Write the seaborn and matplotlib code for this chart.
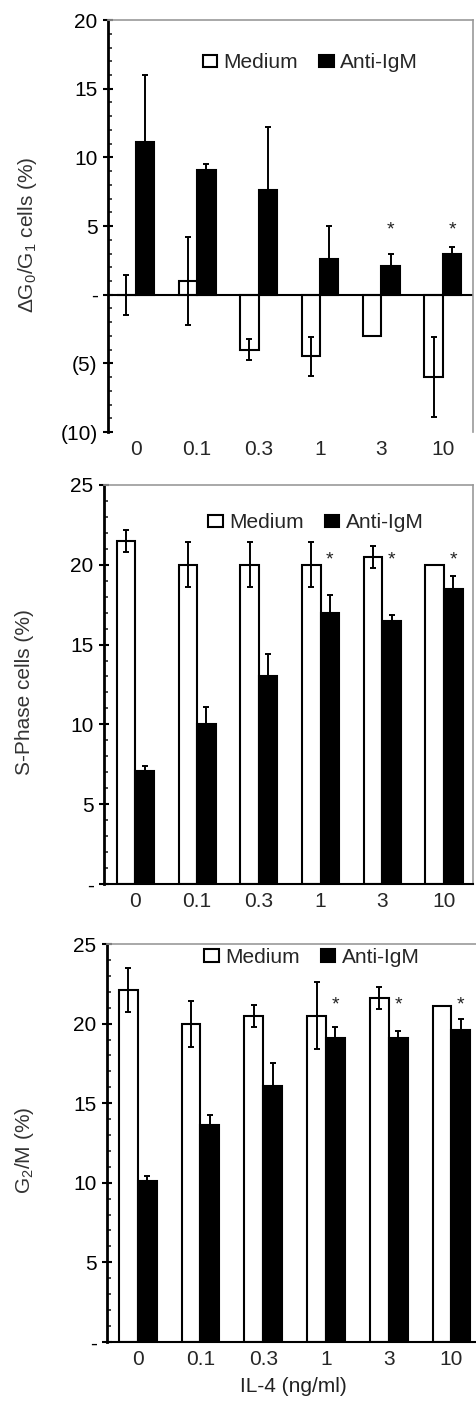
import numpy as np
import pandas as pd
import matplotlib
matplotlib.use('Agg')
import matplotlib.pyplot as plt
from matplotlib.ticker import AutoMinorLocator, FixedLocator, FixedFormatter
import seaborn as sns

sns.set_style('white')
plt.rcParams['font.family'] = ['Liberation Sans', 'DejaVu Sans']
plt.rcParams['mathtext.fontset'] = 'custom'
plt.rcParams['mathtext.rm'] = 'Liberation Sans'
plt.rcParams['mathtext.it'] = 'Liberation Sans'

doses = ['0', '0.1', '0.3', '1', '3', '10']
groups = ['Medium', 'Anti-IgM']

# panel A: change in G0/G1 cells
g1_medium = [0.0, 1.0, -4.0, -4.5, -3.0, -6.0]
g1_medium_err = [1.45, 3.2, 0.75, 1.4, 0.0, 2.9]
g1_anti = [11.1, 9.1, 7.6, 2.6, 2.1, 3.0]
g1_anti_err = [4.9, 0.45, 4.6, 2.4, 0.9, 0.45]
g1_stars = [False, False, False, False, True, True]

# panel B: S-phase cells
s_medium = [21.5, 20.0, 20.0, 20.0, 20.5, 20.0]
s_medium_err = [0.7, 1.4, 1.4, 1.4, 0.7, 0.0]
s_anti = [7.1, 10.0, 13.0, 17.0, 16.5, 18.5]
s_anti_err = [0.3, 1.1, 1.4, 1.1, 0.35, 0.8]
s_stars = [False, False, False, True, True, True]

# panel C: G2/M cells
g2_medium = [22.1, 20.0, 20.5, 20.5, 21.6, 21.1]
g2_medium_err = [1.4, 1.45, 0.7, 2.1, 0.7, 0.0]
g2_anti = [10.1, 13.6, 16.1, 19.1, 19.1, 19.6]
g2_anti_err = [0.3, 0.65, 1.4, 0.7, 0.45, 0.7]
g2_stars = [False, False, False, True, True, True]

palette = {'Medium': 'white', 'Anti-IgM': 'black'}
FS = 15


def make_df(medium, anti):
    return pd.DataFrame({
        'dose': doses * 2,
        'group': ['Medium'] * len(doses) + ['Anti-IgM'] * len(doses),
        'value': list(medium) + list(anti),
    })


def draw_panel(ax, medium, medium_err, anti, anti_err, stars, star_y,
               ylim, yticks, ylabels, ylabel, leg_xy, xlim):
    df = make_df(medium, anti)
    sns.barplot(data=df, x='dose', y='value', hue='group', order=doses,
                hue_order=groups, palette=palette, edgecolor='black',
                linewidth=1.5, width=0.6, errorbar=None, ax=ax)
    pos = np.arange(len(doses))
    ax.errorbar(pos - 0.15, medium, yerr=medium_err, fmt='none',
                ecolor='black', elinewidth=1.4, capsize=2.4, capthick=1.4)
    ax.errorbar(pos + 0.15, anti, yerr=anti_err, fmt='none',
                ecolor='black', elinewidth=1.4, capsize=2.4, capthick=1.4)
    for i, s in enumerate(stars):
        if s:
            ax.text(pos[i] + 0.15, star_y, '*', ha='center', va='center',
                    fontsize=14, color='#222222')

    ax.set_ylim(*ylim)
    ax.set_xlim(*xlim)
    ax.yaxis.set_major_locator(FixedLocator(yticks))
    ax.yaxis.set_major_formatter(FixedFormatter(ylabels))
    ax.yaxis.set_minor_locator(AutoMinorLocator(5))
    ax.tick_params(axis='y', which='major', direction='inout', length=7,
                   width=1.5, labelsize=FS, left=True, pad=4, colors='black')
    ax.tick_params(axis='y', which='minor', direction='in', length=3,
                   width=1.2, left=True)
    ax.tick_params(axis='x', length=0, labelsize=FS, pad=6)
    ax.set_xlabel('')
    ax.set_ylabel(ylabel, fontsize=FS, color='#333333')
    ax.yaxis.set_label_coords(-0.19, 0.48)

    ax.spines['left'].set_linewidth(2)
    ax.spines['left'].set_color('black')
    ax.spines['bottom'].set_linewidth(1.5)
    ax.spines['bottom'].set_color('black')
    for side in ['top', 'right']:
        ax.spines[side].set_color('#999999')
        ax.spines[side].set_linewidth(1.2)

    ax.legend(loc='center left', bbox_to_anchor=leg_xy, ncol=2,
              frameon=False, fontsize=FS, borderpad=0, borderaxespad=0,
              handlelength=0.7, handleheight=0.55, handletextpad=0.3,
              columnspacing=1.0)


fig = plt.figure(figsize=(4.77, 14.04), dpi=100)
ax1 = fig.add_axes([0.2264, 0.6923, 0.7652, 0.2934])
ax2 = fig.add_axes([0.2180, 0.3704, 0.7736, 0.2842])
ax3 = fig.add_axes([0.2243, 0.0443, 0.7800, 0.2833])

draw_panel(ax1, g1_medium, g1_medium_err, g1_anti, g1_anti_err, g1_stars, 4.7,
           (-10, 20), [-10, -5, 0, 5, 10, 15, 20],
           ['(10)', '(5)', '-', '5', '10', '15', '20'],
           r'$\Delta$G$_0$/G$_1$ cells (%)', (0.26, 0.896), (-0.45, 5.49))
ax1.axhline(0, color='black', lw=1.5, zorder=1)
ax1.spines['bottom'].set_visible(False)

draw_panel(ax2, s_medium, s_medium_err, s_anti, s_anti_err, s_stars, 20.3,
           (0, 25), [0, 5, 10, 15, 20, 25],
           ['-', '5', '10', '15', '20', '25'],
           'S-Phase cells (%)', (0.283, 0.905), (-0.51, 5.47))

draw_panel(ax3, g2_medium, g2_medium_err, g2_anti, g2_anti_err, g2_stars, 21.2,
           (0, 25), [0, 5, 10, 15, 20, 25],
           ['-', '5', '10', '15', '20', '25'],
           r'G$_2$/M (%)', (0.262, 0.967), (-0.49, 5.44))
ax3.spines['right'].set_visible(False)
ax3.set_xlabel('IL-4 (ng/ml)', fontsize=FS, color='#222222', labelpad=6)

fig.savefig('out.png', dpi=100)
